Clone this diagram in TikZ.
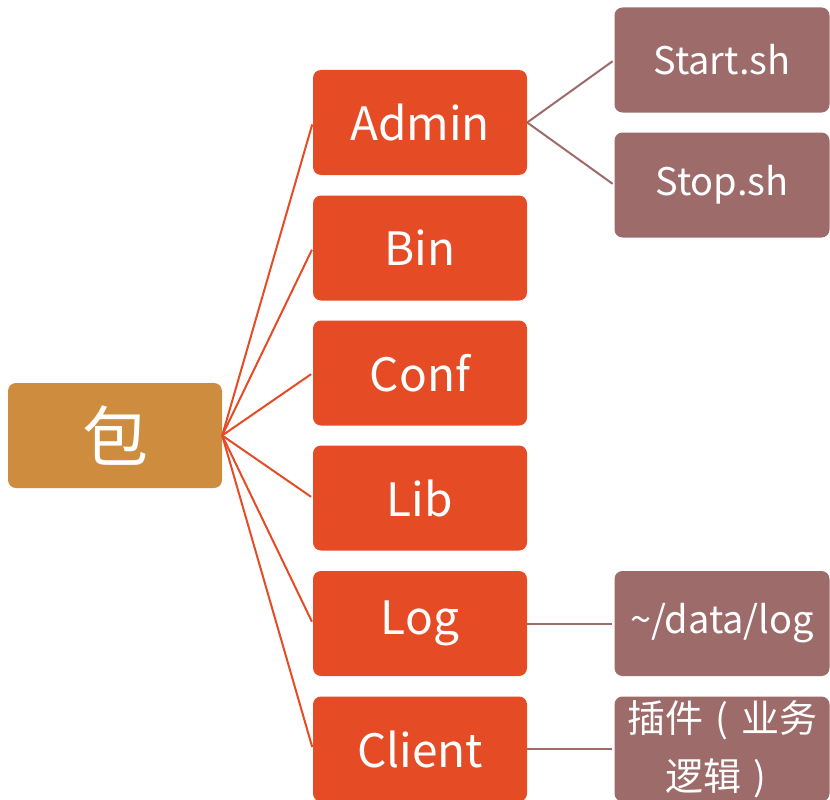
\documentclass[tikz,border=0pt]{standalone}
\usepackage{fontspec}
\setmainfont{Noto Sans CJK SC}
\definecolor{rootfill}{HTML}{CE8C3F}
\definecolor{midfill}{HTML}{E54B24}
\definecolor{leaffill}{HTML}{9C6B6A}
\tikzset{
  box/.style={rectangle, rounded corners=8pt, inner sep=0pt, text=white,
    minimum width=214pt, minimum height=105pt, align=center},
  rootbox/.style={box, fill=rootfill, font=\fontsize{66}{70}\selectfont},
  midbox/.style={box, fill=midfill, font=\fontsize{46}{52}\selectfont},
  leafbox/.style={box, fill=leaffill, minimum width=215pt, font=\fontsize{38}{44}\selectfont},
  rootlink/.style={draw=midfill, line width=2pt},
  leaflink/.style={draw=leaffill, line width=2pt},
}
% a bracket centred in a full-width cell
\newcommand{\cellpar}[1]{\makebox[1em]{#1}}
\begin{document}
\begin{tikzpicture}[x=1pt, y=-1pt]
\useasboundingbox (0,0) rectangle (830,800);
\clip (0,0) rectangle (830,800);

% root
\node[rootbox] (root) at (115,435.5) {包};

% directory level
\node[midbox] (admin)  at (420,122.5) {Admin};
\node[midbox] (bin)    at (420,248)   {Bin};
\node[midbox] (conf)   at (420,373)   {Conf};
\node[midbox] (lib)    at (420,498)   {Lib};
\node[midbox] (log)    at (420,623.5) {Log};
\node[midbox] (client) at (420,749)   {Client};

% contents
\node[leafbox] (start)  at (722,60)    {Start.sh};
\node[leafbox] (stop)   at (722,185)   {Stop.sh};
\node[leafbox] (data)   at (722,623.5) {\textasciitilde/data/log};
\node[leafbox, font=\fontsize{38}{58}\selectfont] (plugin) at (722,749)
  {插件\cellpar{(}业务\\逻辑\cellpar{)}};

% links from the root
\foreach \c in {admin,bin,conf,lib,log,client}
  \draw[rootlink, shorten >=2pt] (root.east) -- (\c.west);

% links to contents
\draw[leaflink, shorten >=2pt] (admin.east) -- (start.west);
\draw[leaflink, shorten >=2pt] (admin.east) -- (stop.west);
\draw[leaflink, shorten >=2pt] (log.east) -- (data.west);
\draw[leaflink, shorten >=2pt] (client.east) -- (plugin.west);
\end{tikzpicture}
\end{document}
